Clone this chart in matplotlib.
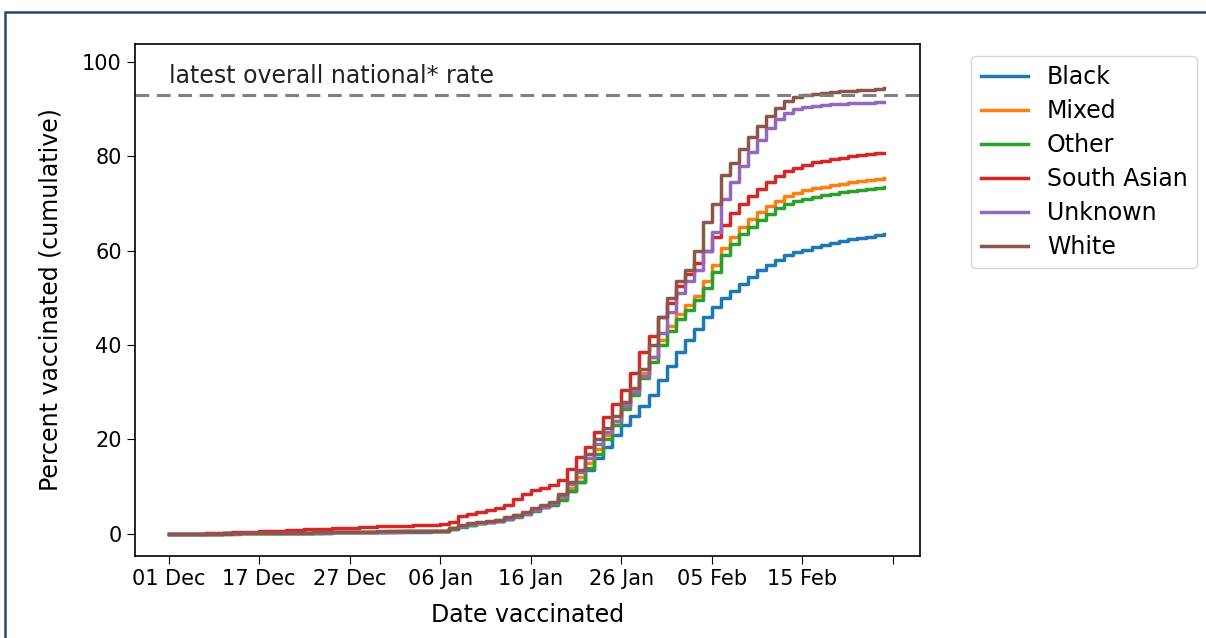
import numpy as np
import pandas as pd
import matplotlib
matplotlib.use('Agg')
import matplotlib.pyplot as plt
from matplotlib.patches import Rectangle
from matplotlib import rcParams

rcParams['font.family'] = 'DejaVu Sans'
rcParams['font.size'] = 17
rcParams['xtick.labelsize'] = 15
rcParams['ytick.labelsize'] = 15
rcParams['xtick.major.size'] = 6
rcParams['ytick.major.size'] = 6
rcParams['axes.linewidth'] = 1.2

# daily cumulative % vaccinated, starting 07 Dec
start = '2020-12-07'
ndays = 80

black = [0, 0, 0, 0, 0.05, 0.05, 0.1, 0.1, 0.1, 0.1, 0.15,
         0.15, 0.2, 0.2, 0.2, 0.2, 0.25, 0.25, 0.3, 0.3, 0.3,
         0.3, 0.35, 0.35, 0.4, 0.4, 0.4, 0.45, 0.45, 0.5, 0.5,
         1.0, 1.5, 1.9, 2.2, 2.5, 2.8, 3.2, 3.8, 4.4, 5.0,
         5.6, 6.2, 7.3, 9.0, 11.0, 13.5, 16.0, 18.5, 21.0, 23.0,
         25.0, 27.0, 29.5, 32.5, 35.5, 38.5, 41.0, 43.5, 46.0, 48.0,
         50.0, 51.5, 53.0, 54.5, 56.0, 57.0, 58.0, 59.0, 59.7, 60.2,
         60.7, 61.2, 61.6, 62.0, 62.4, 62.7, 63.0, 63.3, 63.5]
mixed = [0, 0, 0, 0, 0.05, 0.05, 0.1, 0.1, 0.1, 0.15, 0.15,
         0.2, 0.2, 0.2, 0.25, 0.25, 0.3, 0.3, 0.35, 0.35, 0.4,
         0.4, 0.45, 0.45, 0.5, 0.5, 0.55, 0.55, 0.6, 0.6, 0.65,
         1.2, 1.7, 2.0, 2.3, 2.6, 2.9, 3.4, 3.9, 4.5, 5.2,
         5.9, 6.6, 7.8, 9.8, 12.0, 15.0, 18.0, 21.0, 24.0, 27.5,
         30.5, 34.0, 37.5, 41.0, 44.0, 46.5, 48.5, 50.5, 53.5, 57.0,
         60.5, 63.0, 65.0, 66.7, 68.2, 69.5, 70.6, 71.5, 72.2, 72.8,
         73.2, 73.6, 73.9, 74.2, 74.5, 74.8, 75.0, 75.2, 75.4]
other = [0, 0, 0, 0, 0.05, 0.05, 0.1, 0.1, 0.1, 0.1, 0.15,
         0.15, 0.2, 0.2, 0.2, 0.25, 0.25, 0.3, 0.3, 0.35, 0.35,
         0.4, 0.4, 0.45, 0.45, 0.5, 0.5, 0.55, 0.55, 0.6, 0.6,
         1.1, 1.6, 1.9, 2.2, 2.5, 2.7, 3.1, 3.6, 4.2, 4.9,
         5.6, 6.3, 7.2, 9.0, 11.0, 14.0, 17.0, 20.0, 23.0, 26.5,
         29.5, 33.0, 36.5, 40.0, 43.0, 45.5, 47.5, 49.5, 52.0, 55.5,
         59.0, 61.5, 63.5, 65.0, 66.5, 67.8, 69.0, 69.8, 70.5, 71.0,
         71.4, 71.8, 72.1, 72.4, 72.7, 72.9, 73.1, 73.3, 73.5]
south_asian = [0, 0, 0, 0.05, 0.1, 0.15, 0.2, 0.3, 0.35, 0.4, 0.5,
               0.6, 0.7, 0.8, 0.9, 1.0, 1.05, 1.1, 1.15, 1.2, 1.3,
               1.35, 1.4, 1.6, 1.65, 1.7, 1.75, 1.8, 1.85, 1.9, 2.0,
               2.6, 3.7, 4.3, 4.7, 5.0, 5.4, 6.2, 7.3, 8.4, 9.3,
               9.8, 10.3, 11.5, 13.8, 16.3, 18.5, 21.5, 24.8, 27.5, 30.5,
               34.0, 38.5, 42.0, 46.0, 49.0, 52.5, 55.0, 57.5, 60.0, 63.0,
               65.5, 68.0, 70.0, 71.5, 73.0, 74.5, 75.8, 76.8, 77.5, 78.2,
               78.7, 79.1, 79.4, 79.7, 80.0, 80.2, 80.4, 80.6, 80.8]
unknown = [0, 0, 0, 0, 0, 0.05, 0.05, 0.05, 0.1, 0.1, 0.1,
           0.15, 0.15, 0.2, 0.2, 0.2, 0.25, 0.25, 0.3, 0.3, 0.35,
           0.35, 0.4, 0.4, 0.45, 0.45, 0.5, 0.5, 0.55, 0.6, 0.6,
           1.2, 1.7, 2.0, 2.3, 2.5, 2.7, 3.2, 3.7, 4.3, 5.0,
           5.7, 6.5, 8.0, 10.5, 13.0, 16.0, 19.0, 21.5, 24.0, 27.0,
           30.0, 33.5, 37.5, 42.5, 47.0, 51.0, 53.5, 56.0, 60.0, 64.0,
           71.0, 74.5, 78.0, 81.0, 83.5, 86.0, 88.0, 89.2, 90.0, 90.4,
           90.7, 90.9, 91.0, 91.1, 91.2, 91.3, 91.4, 91.5, 91.6]
white = [0, 0, 0, 0, 0, 0.05, 0.05, 0.1, 0.1, 0.1, 0.15,
         0.15, 0.2, 0.2, 0.2, 0.25, 0.3, 0.3, 0.3, 0.35, 0.4,
         0.4, 0.45, 0.5, 0.5, 0.5, 0.55, 0.6, 0.6, 0.65, 0.7,
         1.3, 1.9, 2.2, 2.5, 2.8, 3.0, 3.5, 4.0, 4.6, 5.5,
         6.1, 6.8, 8.5, 11.0, 13.6, 17.0, 20.0, 22.5, 25.0, 28.0,
         31.0, 35.0, 40.0, 46.0, 50.0, 53.5, 56.0, 60.0, 66.0, 70.0,
         76.0, 78.5, 81.5, 84.0, 86.5, 88.5, 90.3, 91.8, 92.6, 93.0,
         93.3, 93.5, 93.7, 93.8, 93.9, 94.0, 94.1, 94.2, 94.4]

groups = ['Black', 'Mixed', 'Other', 'South Asian', 'Unknown', 'White']
series = [black, mixed, other, south_asian, unknown, white]
national_rate = 93.0

tick_labels = ['01 Dec', '17 Dec', '27 Dec', '06 Jan', '16 Jan',
               '26 Jan', '05 Feb', '15 Feb', '']

dates = pd.date_range(start, periods=ndays, freq='D')
tick_dates = pd.date_range(start, periods=len(tick_labels), freq='10D')

fig = plt.figure(figsize=(12.06, 6.38), dpi=100)
ax = fig.add_axes([0.112, 0.1285, 0.651, 0.8025])

for name, vals in zip(groups, series):
    ax.plot(dates, vals, drawstyle='steps-post', lw=2.5, label=name)

ax.axhline(national_rate, color='grey', ls='--', lw=2.2, dashes=(4.5, 2.5))
ax.text(dates[0], national_rate + 1.4, 'latest overall national* rate',
        ha='left', va='bottom', color='#222222')

ax.set_xticks(tick_dates)
ax.set_xticklabels(tick_labels)
ax.set_xlim(dates[0] - pd.Timedelta(days=3.7), dates[0] + pd.Timedelta(days=83.0))
ax.set_ylim(-4.7, 103.8)
ax.set_yticks([0, 20, 40, 60, 80, 100])
ax.set_xlabel('Date vaccinated', labelpad=10)
ax.set_ylabel('Percent vaccinated (cumulative)', labelpad=14)
ax.legend(loc='upper left', bbox_to_anchor=(1.05, 1), handlelength=2.0,
          labelspacing=0.42)

# dark blue frame around the figure
fig.add_artist(Rectangle((5 / 1206, -0.05), 1.1, 0.981 + 0.05,
                         transform=fig.transFigure, fill=False,
                         edgecolor='#2b4670', lw=1.8))

fig.savefig('out.png', dpi=100)
